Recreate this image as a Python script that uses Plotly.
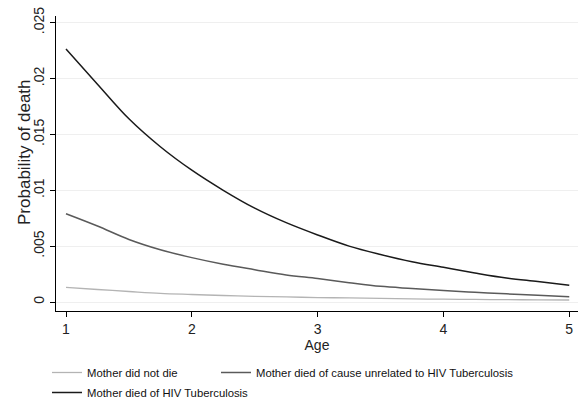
import plotly.graph_objects as go

# Data
ages = [1.0, 1.25, 1.5, 1.75, 2.0, 2.25, 2.5, 2.75, 3.0, 3.25, 3.5, 3.75, 4.0, 4.25, 4.5, 4.75, 5.0]
did_not_die = [0.0013, 0.00112, 0.00094, 0.00077, 0.00067, 0.00058, 0.0005, 0.00045, 0.0004,
               0.00036, 0.00032, 0.00028, 0.00025, 0.00023, 0.00021, 0.00019, 0.00018]
died_unrelated = [0.0079, 0.0068, 0.0056, 0.00468, 0.00397, 0.00338, 0.00289, 0.00242, 0.0021,
                  0.00173, 0.0014, 0.00121, 0.00103, 0.00087, 0.00073, 0.0006, 0.00048]
died_hiv_tb = [0.02264, 0.0195, 0.0164, 0.0139, 0.0118, 0.0100, 0.0084, 0.0071, 0.0060,
               0.0050, 0.00425, 0.0036, 0.0031, 0.0026, 0.00215, 0.00183, 0.0015]

series_names = ["Mother did not die",
                "Mother died of cause unrelated to HIV Tuberculosis",
                "Mother died of HIV Tuberculosis"]

x_ticks = [1, 2, 3, 4, 5]
y_ticks = [0, 0.005, 0.01, 0.015, 0.02, 0.025]
y_tick_labels = ["0", ".005", ".01", ".015", ".02", ".025"]
x_title = "Age"
y_title = "Probability of death"

FONT = "Liberation Sans, Arial, sans-serif"

fig = go.Figure()
fig.add_trace(go.Scatter(x=ages, y=did_not_die, mode="lines", name=series_names[0], showlegend=True,
                         line=dict(color="#b4b4b4", width=1.3, shape="spline"), legend="legend"))
fig.add_trace(go.Scatter(x=ages, y=died_unrelated, mode="lines", name=series_names[1], showlegend=True,
                         line=dict(color="#5a5a5a", width=1.5, shape="spline"), legend="legend2"))
fig.add_trace(go.Scatter(x=ages, y=died_hiv_tb, mode="lines", name=series_names[2], showlegend=True,
                         line=dict(color="#1a1a1a", width=1.5, shape="spline"), legend="legend3"))

leg_common = dict(orientation="h", xanchor="left", yanchor="top",
                  font=dict(size=11.3, color="#111"),
                  bgcolor="rgba(0,0,0,0)", borderwidth=0)

fig.update_layout(
    width=584, height=403,
    showlegend=True,
    margin=dict(l=56, r=6, t=16, b=92, autoexpand=False),
    paper_bgcolor="white", plot_bgcolor="white",
    font=dict(family=FONT, color="#222", size=14),
    legend=dict(x=-0.0172, y=-0.1593, **leg_common),
    legend2=dict(x=0.3065, y=-0.1593, **leg_common),
    legend3=dict(x=-0.0172, y=-0.2271, **leg_common),
    annotations=[dict(text=y_title, textangle=-90, xref="paper", yref="paper",
                      x=-0.0594, y=0.539, xanchor="center", yanchor="middle",
                      showarrow=False, font=dict(size=17, color="#222"))],
)

fig.update_xaxes(
    range=[0.9205, 5.0695], tickvals=x_ticks, ticktext=[str(t) for t in x_ticks],
    showgrid=False, zeroline=False, automargin=False,
    showline=True, linecolor="black", linewidth=1,
    ticks="outside", ticklen=5, tickcolor="black", tickwidth=1,
    tickfont=dict(size=14, color="#222"),
    title=dict(text=x_title, font=dict(size=14, color="#222"), standoff=0),
)
fig.update_yaxes(
    range=[-0.000806, 0.0256], tickvals=y_ticks, ticktext=y_tick_labels,
    tickangle=-90,
    showgrid=True, gridcolor="#efefef", gridwidth=1, zeroline=False, automargin=False,
    showline=True, linecolor="black", linewidth=1,
    ticks="outside", ticklen=5, tickcolor="black", tickwidth=1,
    tickfont=dict(size=14, color="#222"),
)

fig.write_html("out.html", config={"displayModeBar": False},
               post_script="document.body.style.margin='0';document.body.style.padding='0';")
